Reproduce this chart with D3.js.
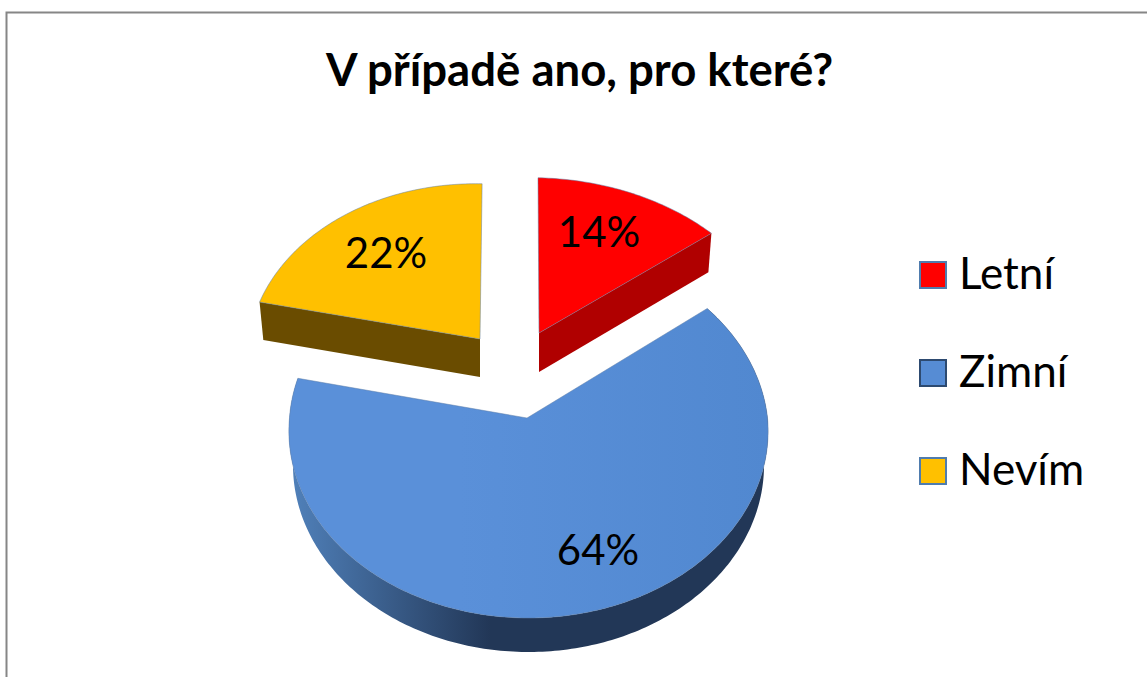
<!DOCTYPE html>
<html><head><meta charset="utf-8">
<script src="https://cdn.jsdelivr.net/npm/d3@7"></script>
<style>html,body{margin:0;padding:0;background:#fff}svg{display:block}text{font-family:Lato,"Open Sans",sans-serif;fill:#000}</style>
</head><body><svg id="c" width="1147" height="677"></svg>
<script>
const title = "V případě ano, pro které?";
const categories = ["Letní", "Zimní", "Nevím"];
const values = [14, 64, 22];
const valueLabels = ["14%", "64%", "22%"];

const topColor = d3.scaleOrdinal(categories, ["#ff0000", "#568cd4", "#ffc000"]);
const topFill = d3.scaleOrdinal(categories, ["#ff0000", "url(#blueTop)", "#ffc000"]);
const sideColor = d3.scaleOrdinal(categories, ["#b00000", "url(#blueSide)", "#6a4c00"]);
const legendStroke = d3.scaleOrdinal(categories, ["#4f7cae", "#2d4a70", "#4f7cae"]);
const layout = {
  "Letní": {ax: 539, ay: 333, rx: 242, ry: 175, k: 0.127, shear: 0.048, off: 0, depth: 39, lx: 599, ly: 247},
  "Zimní": {ax: 527, ay: 418, rx: 239, ry: 186, k: 0.07, shear: 0.02, off: 1.5, depth: 34, lx: 598, ly: 565},
  "Nevím": {ax: 480, ay: 339, rx: 231, ry: 175, k: 0.127, shear: 0.026, off: 0, depth: 38, lx: 386, ly: 268}
};
const rot = 0.03;

const svg = d3.select("#c");
const defs = svg.append("defs");
const g1 = defs.append("linearGradient").attr("id", "blueSide").attr("gradientUnits", "userSpaceOnUse")
  .attr("x1", 295).attr("x2", 490).attr("y1", 0).attr("y2", 0);
g1.append("stop").attr("offset", 0).attr("stop-color", "#4f7fb8");
g1.append("stop").attr("offset", 1).attr("stop-color", "#223757");
const g2 = defs.append("linearGradient").attr("id", "blueTop").attr("gradientUnits", "userSpaceOnUse")
  .attr("x1", 460).attr("x2", 768).attr("y1", 0).attr("y2", 0);
g2.append("stop").attr("offset", 0).attr("stop-color", "#5a90d9");
g2.append("stop").attr("offset", 1).attr("stop-color", "#5188d0");

svg.append("path").attr("d", "M6.5,677V12.5H1147").attr("fill", "none").attr("stroke", "#868686").attr("stroke-width", 2);

svg.append("text").attr("x", 579.5).attr("y", 86).attr("text-anchor", "middle")
  .attr("font-size", 45.5).attr("font-weight", 700).text(title);

const pie = d3.pie().sort(null).value(d => d.v).startAngle(rot).endAngle(2 * Math.PI + rot);
const slices = pie(categories.map((c, i) => ({c, v: values[i], t: valueLabels[i]})));

function project(a, r, L, down) {
  const u = r * Math.sin(a), v = -r * Math.cos(a), w = 1 - L.k * v;
  const sx = down ? 0.983 : 1;
  const y = L.ry * v / w;
  return [L.ax + L.off + sx * L.rx * u / w + L.shear * Math.min(y, 0), L.ay + (down ? L.depth : 0) + y];
}
const line = d3.line();
const draw = [slices[1], slices[0], slices[2]];

draw.forEach(s => {
  const L = layout[s.data.c];
  const n = Math.ceil((s.endAngle - s.startAngle) * 60);
  const angles = d3.range(n + 1).map(i => s.startAngle + (s.endAngle - s.startAngle) * i / n);
  const rim = angles.map(a => project(a, 1, L, false));
  const rimD = angles.map(a => project(a, 1, L, true));
  const apex = [L.ax, L.ay], apexD = [L.ax, L.ay + L.depth];
  const g = svg.append("g");
  if (s.data.c === "Zimní") {
    g.append("path").attr("d", line(rim.concat(rimD.slice().reverse())) + "Z").attr("fill", sideColor(s.data.c));
  } else if (s.data.c === "Letní") {
    g.append("path").attr("d", line([apex, rim[n], rimD[n], apexD]) + "Z").attr("fill", sideColor(s.data.c));
  } else {
    g.append("path").attr("d", line([apex, rim[0], rimD[0], apexD]) + "Z").attr("fill", sideColor(s.data.c));
  }
  g.append("path").attr("d", line([apex].concat(rim)) + "Z")
    .attr("fill", topFill(s.data.c)).attr("stroke", "#5f7fa8").attr("stroke-width", 0.5);
});

draw.forEach(s => {
  const L = layout[s.data.c];
  svg.append("text").attr("x", L.lx).attr("y", L.ly).attr("text-anchor", "middle")
    .attr("font-size", 42).text(s.data.t);
});

const legendY = d3.scalePoint(categories, [275, 471]);
categories.forEach(c => {
  svg.append("rect").attr("x", 920).attr("y", legendY(c) - 13).attr("width", 26).attr("height", 26)
    .attr("fill", topColor(c)).attr("stroke", legendStroke(c)).attr("stroke-width", 2);
  svg.append("text").attr("x", 959).attr("y", legendY(c) + 14).attr("font-size", 44).text(c);
});
</script></body></html>
